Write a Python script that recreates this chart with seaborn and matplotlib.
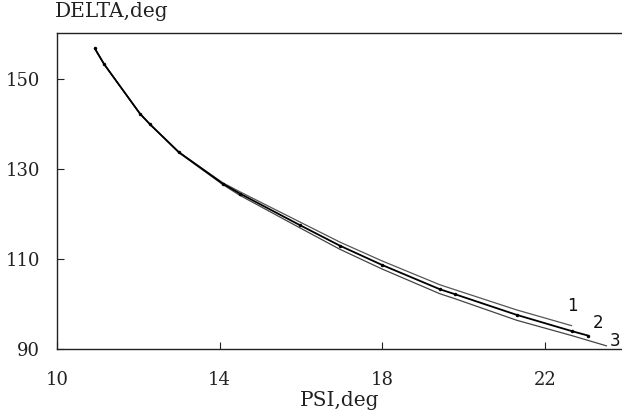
import numpy as np
import pandas as pd
import matplotlib
matplotlib.use("Agg")
import matplotlib.pyplot as plt
import seaborn as sns

# Data (PSI, DELTA in degrees)
psi_1 = [10.93, 11.16, 12.04, 12.29, 13.0, 14.08, 14.5, 15.97, 16.96, 18.0, 19.42, 19.79, 21.31, 22.66]
delta_1 = [156.9, 153.4, 142.4, 140.0, 133.8, 127.0, 125.0, 118.3, 113.8, 109.6, 104.3, 103.2, 98.7, 95.2]

psi_2 = [10.93, 11.16, 12.04, 12.29, 13.0, 14.08, 14.5, 15.97, 16.96, 18.0, 19.42, 19.79, 21.31, 22.66, 23.06]
delta_2 = [156.9, 153.4, 142.4, 140.0, 133.8, 126.8, 124.6, 117.6, 113.0, 108.7, 103.3, 102.2, 97.6, 94.0, 93.0]

psi_3 = [10.93, 11.16, 12.04, 12.29, 13.0, 14.08, 14.5, 15.97, 16.96, 18.0, 19.42, 19.79, 21.31, 22.66, 23.52]
delta_3 = [156.9, 153.4, 142.4, 140.0, 133.7, 126.6, 124.2, 117.0, 112.2, 107.8, 102.3, 101.2, 96.4, 93.0, 90.7]

curve_labels = ["1", "2", "3"]
label_pos = [(22.69, 99.6), (23.3, 95.8), (23.72, 91.8)]

x_ticks = [10, 14, 18, 22]
y_ticks = [90, 110, 130, 150]

df = pd.concat([
    pd.DataFrame({"psi": psi_1, "delta": delta_1, "curve": "1"}),
    pd.DataFrame({"psi": psi_2, "delta": delta_2, "curve": "2"}),
    pd.DataFrame({"psi": psi_3, "delta": delta_3, "curve": "3"}),
])

sns.set_style("white")
plt.rcParams["font.family"] = ["DejaVu Serif"]

fig = plt.figure(figsize=(6.22, 4.2), dpi=100)
ax = fig.add_axes([0.0916, 0.169, 0.9084, 0.752])

sns.lineplot(data=df[df.curve == "1"], x="psi", y="delta", sort=False, estimator=None,
             color="#555555", lw=0.9, ax=ax)
sns.lineplot(data=df[df.curve == "3"], x="psi", y="delta", sort=False, estimator=None,
             color="#444444", lw=0.9, ax=ax)
sns.lineplot(data=df[df.curve == "2"], x="psi", y="delta", sort=False, estimator=None,
             color="black", lw=1.3, marker="o", markersize=2.5, markeredgewidth=0, ax=ax)

for lab, (px, py) in zip(curve_labels, label_pos):
    ax.text(px, py, lab, fontsize=12, color="#111111", ha="center", va="center",
            family="DejaVu Sans")

ax.set_xlim(10, 23.9)
ax.set_ylim(90, 160.3)
ax.set_xticks(x_ticks)
ax.set_yticks(y_ticks)
ax.tick_params(bottom=True, left=True, direction="in", length=5, width=0.8,
               labelsize=13, colors="#222222")
ax.tick_params(axis="y", pad=12)
ax.tick_params(axis="x", pad=16)

for side in ["left", "bottom", "top"]:
    ax.spines[side].set_color("#222222")
    ax.spines[side].set_linewidth(1.0)
ax.spines["right"].set_visible(False)

ax.set_xlabel("PSI,deg", fontsize=14.5, color="#222222", labelpad=1)
ax.set_ylabel("")
fig.text(0.088, 0.972, "DELTA,deg", fontsize=14.5, color="#222222", ha="left", va="center")

fig.savefig("out.png", dpi=100)
